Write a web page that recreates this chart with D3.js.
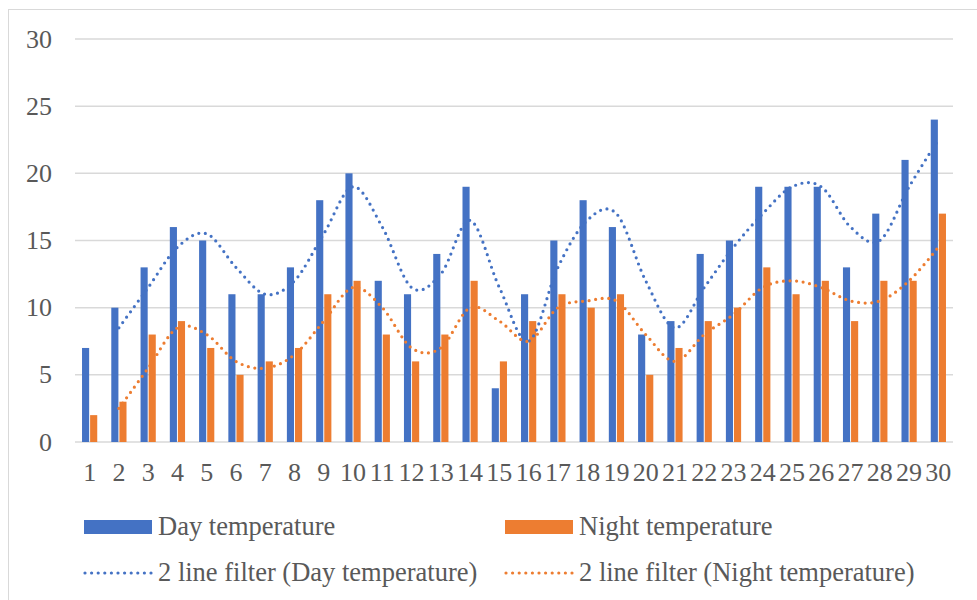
<!DOCTYPE html>
<html>
<head>
<meta charset="utf-8">
<script src="https://cdn.jsdelivr.net/npm/d3@7"></script>
<style>
  body { margin: 0; background: #fff; }
  svg text { font-family: "Liberation Serif", "Times New Roman", serif; fill: #595959; }
</style>
</head>
<body>
<svg id="chart" width="977" height="600"></svg>
<script>
// Daily temperatures, 30 days, plus 2-period moving average trendlines
const days = d3.range(1, 31).map(String);
const dayTemp = [7, 10, 13, 16, 15, 11, 11, 13, 18, 20, 12, 11, 14, 19, 4, 11, 15, 18, 16, 8, 9, 14, 15, 19, 19, 19, 13, 17, 21, 24];
const nightTemp = [2, 3, 8, 9, 7, 5, 6, 7, 11, 12, 8, 6, 8, 12, 6, 9, 11, 10, 11, 5, 7, 9, 10, 13, 11, 12, 9, 12, 12, 17];
const yTicks = [0, 5, 10, 15, 20, 25, 30];

const BLUE = '#4472C4';
const ORANGE = '#ED7D31';

const svg = d3.select('#chart');

// outer chart border
svg.append('rect')
    .attr('x', 8.5).attr('y', 9.5)
    .attr('width', 1000).attr('height', 700)
    .attr('fill', 'none')
    .attr('stroke', '#d9d9d9')
    .attr('stroke-width', 1);

const plotLeft = 75, plotRight = 953, plotTop = 39, plotBottom = 442;

const x = d3.scaleBand()
    .domain(days)
    .range([plotLeft, plotRight])
    .paddingInner(0.48)
    .paddingOuter(0.24);

const xSeries = d3.scaleBand()
    .domain(['day', 'night'])
    .range([0, x.bandwidth()])
    .paddingInner(0.12);

const y = d3.scaleLinear().domain([0, 30]).range([plotBottom, plotTop]);

// gridlines
svg.append('g')
    .selectAll('line')
    .data(yTicks)
    .join('line')
    .attr('x1', plotLeft).attr('x2', plotRight)
    .attr('y1', d => y(d)).attr('y2', d => y(d))
    .attr('stroke', '#d9d9d9')
    .attr('stroke-width', 1.5);

// y labels
svg.append('g')
    .selectAll('text')
    .data(yTicks)
    .join('text')
    .attr('x', 52)
    .attr('y', d => y(d))
    .attr('dy', '0.33em')
    .attr('text-anchor', 'end')
    .attr('font-size', 26)
    .text(d => d);

// bars
const series = [
    { key: 'day', values: dayTemp, color: BLUE },
    { key: 'night', values: nightTemp, color: ORANGE }
];

series.forEach(s => {
    svg.append('g')
        .selectAll('rect')
        .data(s.values)
        .join('rect')
        .attr('x', (d, i) => x(days[i]) + xSeries(s.key))
        .attr('y', d => y(d))
        .attr('width', xSeries.bandwidth())
        .attr('height', d => y(0) - y(d))
        .attr('fill', s.color);
});

// x labels
svg.append('g')
    .selectAll('text')
    .data(days)
    .join('text')
    .attr('x', d => x(d) + x.bandwidth() / 2)
    .attr('y', 481)
    .attr('text-anchor', 'middle')
    .attr('font-size', 26)
    .text(d => d);

// 2-period moving average
function movingAvg(vals) {
    const out = [];
    for (let i = 1; i < vals.length; i++) {
        out.push({ i, v: (vals[i - 1] + vals[i]) / 2 });
    }
    return out;
}

const line = d3.line()
    .x(d => x(days[d.i]) + x.bandwidth() / 2)
    .y(d => y(d.v))
    .curve(d3.curveCardinal);

const DOTS = '0 6.6';

series.forEach(s => {
    svg.append('path')
        .datum(movingAvg(s.values))
        .attr('d', line)
        .attr('fill', 'none')
        .attr('stroke', s.color)
        .attr('stroke-width', 3.2)
        .attr('stroke-linecap', 'round')
        .attr('stroke-dasharray', DOTS);
});

// legend
const legend = svg.append('g');
const legendItems = [
    { label: 'Day temperature', color: BLUE, type: 'bar', x: 84, y: 527 },
    { label: 'Night temperature', color: ORANGE, type: 'bar', x: 505, y: 527 },
    { label: '2 line filter (Day temperature)', color: BLUE, type: 'line', x: 84, y: 573 },
    { label: '2 line filter (Night temperature)', color: ORANGE, type: 'line', x: 505, y: 573 }
];

legendItems.forEach(it => {
    if (it.type === 'bar') {
        legend.append('rect')
            .attr('x', it.x).attr('y', it.y - 7)
            .attr('width', 68).attr('height', 14)
            .attr('fill', it.color);
    } else {
        legend.append('line')
            .attr('x1', it.x + 1).attr('x2', it.x + 67)
            .attr('y1', it.y).attr('y2', it.y)
            .attr('stroke', it.color)
            .attr('stroke-width', 3.2)
            .attr('stroke-linecap', 'round')
            .attr('stroke-dasharray', DOTS);
    }
    legend.append('text')
        .attr('x', it.x + 74)
        .attr('y', it.y + 8)
        .attr('font-size', 26.5)
        .text(it.label);
});
</script>
</body>
</html>
